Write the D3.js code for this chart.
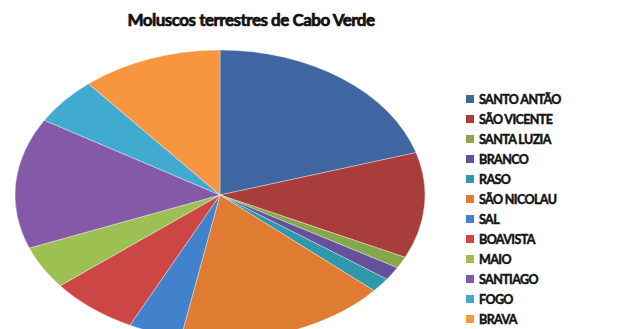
<!DOCTYPE html>
<html>
<head>
<meta charset="utf-8">
<script src="https://cdn.jsdelivr.net/npm/d3@7"></script>
<style>
  html, body { margin: 0; padding: 0; background: #fff; }
  svg { display: block; }
  text { font-family: Lato, "Open Sans", "Liberation Sans", sans-serif; }
</style>
</head>
<body>
<svg id="chart" width="625" height="329"></svg>
<script>
// Islands of Cabo Verde, in drawing order (clockwise from 12 o'clock)
const islands = ["SANTO ANTÃO", "SÃO VICENTE", "SANTA LUZIA", "BRANCO", "RASO",
                 "SÃO NICOLAU", "SAL", "BOAVISTA", "MAIO", "SANTIAGO", "FOGO", "BRAVA"];
// Share of land-snail species per island (%)
const shares = [20.3, 11.8, 1.3, 1.5, 1.6, 16.6, 4.2, 7.0, 4.8, 14.6, 5.3, 11.1];
const colors = ["#3f66a1", "#a83d3b", "#86a84a", "#64519a", "#2f98aa", "#e07c31",
                "#4282cc", "#cd4646", "#9cc152", "#8459a7", "#41abcf", "#f7963f"];
const title = "Moluscos terrestres de Cabo Verde";

const svg = d3.select("#chart");

// Heavy title: bold face plus a thin outline of the same colour
svg.append("text")
  .attr("x", 251).attr("y", 26)
  .attr("text-anchor", "middle")
  .attr("font-size", 17).attr("font-weight", 700)
  .attr("letter-spacing", -0.5)
  .attr("fill", "#111")
  .attr("stroke", "#111").attr("stroke-width", 0.7)
  .text(title);

const data = islands.map((name, i) => ({ name, value: shares[i], color: colors[i] }));

const pie = d3.pie().sort(null).value(d => d.value);
const rx = 205, ry = 145, cx = 220, cy = 195;
const arc = d3.arc().innerRadius(0).outerRadius(rx);

// Pie drawn as a circle, then squashed vertically into an ellipse
const g = svg.append("g")
  .attr("transform", `translate(${cx},${cy}) scale(1,${ry / rx})`);

g.selectAll("path")
  .data(pie(data))
  .join("path")
  .attr("d", arc)
  .attr("fill", d => d.data.color)
  .attr("stroke", "rgba(255,255,255,0.45)")
  .attr("stroke-width", 0.8)
  .attr("vector-effect", "non-scaling-stroke");

// Legend
const legend = svg.append("g").attr("transform", "translate(466,100)");
const row = d3.scaleBand().domain(islands).range([0, 240]).paddingInner(0);
const items = legend.selectAll("g")
  .data(data)
  .join("g")
  .attr("transform", d => `translate(0,${row(d.name)})`);
items.append("rect")
  .attr("x", 0).attr("y", -5).attr("width", 8).attr("height", 8)
  .attr("fill", d => d.color);
items.append("text")
  .attr("x", 13).attr("y", 4)
  .attr("font-size", 12.5).attr("font-weight", 700)
  .attr("letter-spacing", -0.6)
  .attr("fill", "#111")
  .attr("stroke", "#111").attr("stroke-width", 0.45)
  .text(d => d.name);
</script>
</body>
</html>
